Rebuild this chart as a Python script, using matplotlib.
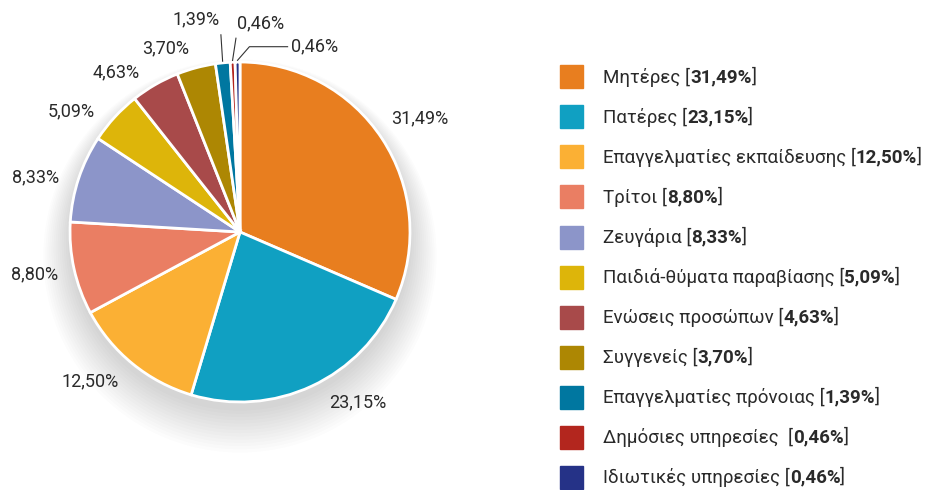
import matplotlib
matplotlib.use("Agg")
import matplotlib.pyplot as plt
from matplotlib.patches import Circle, Rectangle
import numpy as np

plt.rcParams['font.family'] = ['Roboto', 'DejaVu Sans']

# Δεδομένα
categories = ['Μητέρες', 'Πατέρες', 'Επαγγελματίες εκπαίδευσης', 'Τρίτοι', 'Ζευγάρια',
              'Παιδιά-θύματα παραβίασης', 'Ενώσεις προσώπων', 'Συγγενείς',
              'Επαγγελματίες πρόνοιας', 'Δημόσιες υπηρεσίες ', 'Ιδιωτικές υπηρεσίες']
values = [31.49, 23.15, 12.50, 8.80, 8.33, 5.09, 4.63, 3.70, 1.39, 0.46, 0.46]
colors = ['#E87E1F', '#10A0C2', '#FBB034', '#EA7E63', '#8C95C9', '#DDB50A',
          '#A84A4A', '#AD8703', '#0077A0', '#B3261E', '#253287']
value_labels = [f"{v:.2f}".replace('.', ',') + '%' for v in values]

# θέσεις ετικετών (σε ακτίνες της πίτας, από το κέντρο)
label_pos = [(1.06, 0.67), (0.69, -1.0), (-0.88, -0.88), (-1.21, -0.25),
             (-1.20, 0.32), (-0.99, 0.71), (-0.73, 0.94), (-0.44, 1.08),
             (-0.26, 1.25), (0.12, 1.23), (0.28, 1.09)]

W, H = 939, 490
cx, cy, R = 240, 232, 170  # pixels

fig = plt.figure(figsize=(W / 100, H / 100), dpi=100)
ax = fig.add_axes([0, 0, 1, 1])

# σκιά κάτω από την πίτα
for i in range(14):
    ax.add_patch(Circle((0, -0.05 - 0.007 * i), 1.0 + 0.012 * i,
                        color='#666666', alpha=0.02, lw=0, zorder=0))

wedges, _ = ax.pie(values, colors=colors, startangle=90, counterclock=False,
                   radius=1.0, wedgeprops=dict(edgecolor='white', linewidth=2))
for w in wedges:
    w.set_zorder(2)

ax.set_aspect('auto')
ax.set_xlim(-cx / R, (W - cx) / R)
ax.set_ylim(-(H - cy) / R, cy / R)
ax.axis('off')

txt_color = '#2a2a2a'
fs_lab = 13
total = sum(values)
cum = 0
for i, v in enumerate(values):
    mid = (cum + v / 2) / total * 2 * np.pi
    cum += v
    tx, ty = label_pos[i]
    if i < 8:
        ax.text(tx, ty, value_labels[i], ha='center', va='center',
                fontsize=fs_lab, color=txt_color)
        continue
    # μικρά κομμάτια με γραμμές
    px, py = np.sin(mid) * 1.01, np.cos(mid) * 1.01
    if i == 10:
        ax.plot([px, px + 0.07, tx], [py, ty, ty], color='#333333', lw=0.8)
        ax.text(tx + 0.02, ty, value_labels[i], ha='left', va='center',
                fontsize=fs_lab, color=txt_color)
    else:
        ax.plot([px, px + (0.02 if i == 9 else -0.01)], [py, ty - 0.09],
                color='#333333', lw=0.8)
        ax.text(tx, ty, value_labels[i], ha='center', va='center',
                fontsize=fs_lab, color=txt_color)

# υπόμνημα
fig.canvas.draw()
renderer = fig.canvas.get_renderer()
for i, (cat, lab, col) in enumerate(zip(categories, value_labels, colors)):
    y = 1 - (77 + 40 * i) / H
    fig.patches.append(Rectangle((560 / W, y - 11.5 / H), 23 / W, 23 / H,
                                 color=col, transform=fig.transFigure, figure=fig))
    x = 603 / W
    for part, weight in ((cat + ' [', 'normal'), (lab, 'bold'), (']', 'normal')):
        t = fig.text(x, y, part, ha='left', va='center', fontsize=13.5,
                     color=txt_color, fontweight=weight)
        bb = t.get_window_extent(renderer)
        x = bb.x1 / W

fig.savefig('out.png', dpi=100)
